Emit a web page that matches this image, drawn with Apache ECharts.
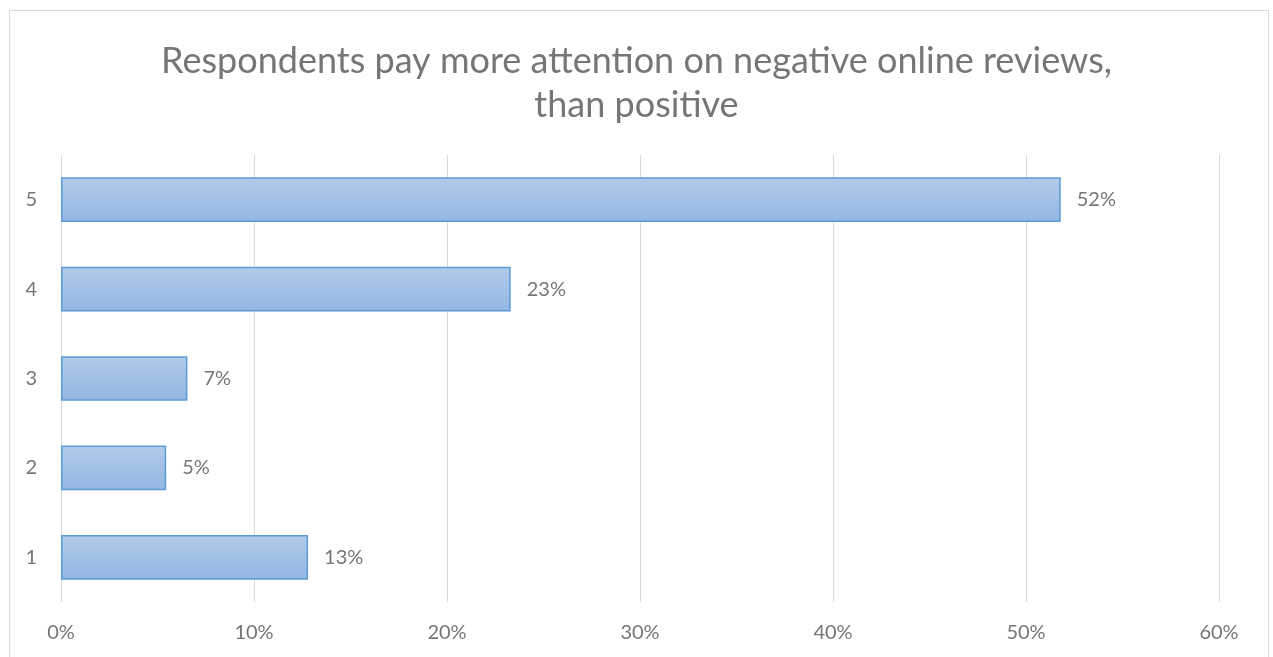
<!DOCTYPE html>
<html>
<head>
<meta charset="utf-8">
<script src="https://cdn.jsdelivr.net/npm/echarts@6/dist/echarts.min.js"></script>
<style>
  html, body { margin: 0; padding: 0; background: #fff; }
  #chart { width: 1273px; height: 657px; }
</style>
</head>
<body>
<div id="chart"></div>
<script>
// Survey answers (scale 1–5) and share of respondents, in percent
const categories = ['1', '2', '3', '4', '5'];
const shares = [12.8, 5.45, 6.55, 23.3, 51.8];
const axisTicks = [0, 10, 20, 30, 40, 50, 60];

const titleText = 'Respondents pay more attention on negative online reviews,\nthan positive';
const textGray = '#767676';
const gridGray = '#d9d9d9';
const fontFamily = 'Lato, "Open Sans", sans-serif';

const chart = echarts.init(document.getElementById('chart'), null, { renderer: 'canvas' });

chart.setOption({
  animation: false,
  backgroundColor: '#ffffff',
  graphic: [{
    type: 'rect',
    shape: { x: 9.5, y: 10.5, width: 1259, height: 700 },
    style: { fill: 'none', stroke: gridGray, lineWidth: 1 },
    silent: true
  }],
  title: {
    text: titleText,
    left: 'center',
    top: 34,
    textStyle: {
      fontFamily: fontFamily,
      fontSize: 36,
      fontWeight: 'normal',
      color: textGray,
      lineHeight: 44,
      align: 'center'
    }
  },
  grid: { left: 61, right: 54, top: 155, bottom: 55, containLabel: false },
  xAxis: {
    type: 'value',
    min: axisTicks[0],
    max: axisTicks[axisTicks.length - 1],
    interval: 10,
    axisLine: { show: false },
    axisTick: { show: false },
    splitLine: { show: true, lineStyle: { color: gridGray, width: 1 } },
    axisLabel: {
      margin: 21,
      color: textGray,
      fontFamily: fontFamily,
      fontSize: 20,
      formatter: v => v + '%'
    }
  },
  yAxis: {
    type: 'category',
    data: categories,
    axisLine: { show: false },
    axisTick: { show: false },
    splitLine: { show: false },
    axisLabel: {
      margin: 24,
      color: textGray,
      fontFamily: fontFamily,
      fontSize: 20
    }
  },
  series: [{
    type: 'bar',
    data: shares,
    barWidth: '50%',
    itemStyle: {
      color: new echarts.graphic.LinearGradient(0, 0, 0, 1, [
        { offset: 0, color: '#b1cbea' },
        { offset: 1, color: '#93b6e2' }
      ]),
      borderColor: '#5b9bd5',
      borderWidth: 1.5
    },
    label: {
      show: true,
      position: 'right',
      distance: 16,
      color: textGray,
      fontFamily: fontFamily,
      fontSize: 20,
      formatter: p => Math.round(p.value) + '%'
    }
  }]
});
</script>
</body>
</html>
